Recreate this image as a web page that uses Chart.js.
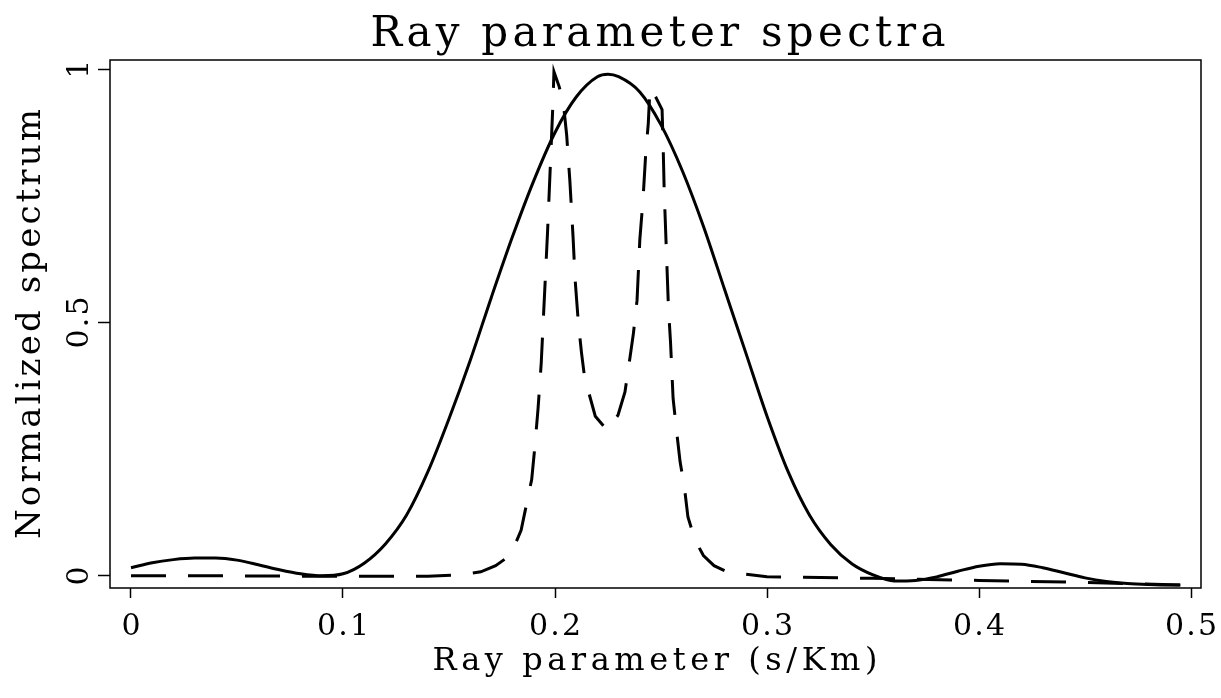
<!DOCTYPE html>
<html>
<head>
<meta charset="utf-8">
<script src="https://cdn.jsdelivr.net/npm/chart.js@4/dist/chart.umd.min.js"></script>
<style>
  body { margin: 0; background: #fff; }
  #wrap { width: 1221px; height: 698px; }
</style>
</head>
<body>
<div id="wrap"><canvas id="spectra" width="1221" height="698"></canvas></div>
<script>
const xTicks = [0, 0.1, 0.2, 0.3, 0.4, 0.5];
const xTickLabels = ["0", "0.1", "0.2", "0.3", "0.4", "0.5"];
const yTicks = [0, 0.5, 1];
const yTickLabels = ["0", "0.5", "1"];

const titleText = "Ray parameter spectra";
const xTitle = "Ray parameter (s/Km)";
const yTitle = "Normalized spectrum";

// solid curve
const solidX = [0, 0.01, 0.02, 0.03, 0.04, 0.05, 0.06, 0.07, 0.08, 0.09, 0.10,
  0.11, 0.12, 0.13, 0.14, 0.15, 0.16, 0.17, 0.18, 0.19, 0.20, 0.21, 0.22, 0.225,
  0.23, 0.24, 0.25, 0.26, 0.27, 0.28, 0.29, 0.30, 0.31, 0.32, 0.33, 0.34, 0.35,
  0.36, 0.37, 0.38, 0.39, 0.40, 0.41, 0.42, 0.43, 0.44, 0.45, 0.46, 0.47, 0.48,
  0.49, 0.495];
const solidY = [0.016, 0.026, 0.032, 0.035, 0.035, 0.031, 0.022, 0.012, 0.004, 0.000, 0.004,
  0.025, 0.063, 0.12, 0.205, 0.31, 0.425, 0.55, 0.67, 0.78, 0.875, 0.945, 0.985, 0.99,
  0.985, 0.955, 0.89, 0.80, 0.69, 0.565, 0.44, 0.315, 0.205, 0.12, 0.062, 0.024, 0.002,
  -0.010, -0.009, -0.002, 0.009, 0.019, 0.024, 0.023, 0.016, 0.006, -0.004, -0.011, -0.015, -0.017,
  -0.018, -0.018];

// dashed curve
const dashX = [0, 0.05, 0.10, 0.14, 0.155, 0.165, 0.172, 0.177, 0.181, 0.184, 0.1865,
  0.189, 0.1905, 0.192, 0.1935, 0.195, 0.1965, 0.198, 0.199, 0.1995, 0.202, 0.204,
  0.2055, 0.207, 0.2085, 0.2095, 0.211, 0.2125, 0.214, 0.2165, 0.219, 0.2245, 0.2297,
  0.233, 0.2354, 0.237, 0.2387, 0.240, 0.2415, 0.2428, 0.244, 0.2448, 0.2475, 0.2505,
  0.251, 0.2515, 0.2525, 0.2535, 0.2545, 0.2557, 0.2575, 0.259, 0.261, 0.2627, 0.266,
  0.270, 0.275, 0.280, 0.290, 0.300, 0.350, 0.400, 0.450, 0.495];
const dashY = [0, 0, -0.001, -0.001, 0.002, 0.008, 0.020, 0.035, 0.060, 0.090, 0.140,
  0.190, 0.255, 0.330, 0.420, 0.550, 0.680, 0.830, 0.930, 0.995, 0.965, 0.930,
  0.870, 0.780, 0.670, 0.584, 0.500, 0.440, 0.390, 0.353, 0.315, 0.288, 0.317,
  0.363, 0.432, 0.479, 0.544, 0.663, 0.742, 0.834, 0.893, 0.963, 0.945, 0.920,
  0.850, 0.760, 0.645, 0.530, 0.460, 0.350, 0.280, 0.225, 0.176, 0.116, 0.071,
  0.040, 0.020, 0.010, 0.003, -0.002, -0.005, -0.009, -0.013, -0.018];

const FONT = "'DejaVu Serif', 'Liberation Serif', serif";

const pts = (xs, ys) => xs.map((x, i) => ({ x: x, y: ys[i] }));

// draw text centred on x at baseline y, letters spread to fill `span` px
function spaced(c, str, x, y, span) {
  const chars = [...str];
  const widths = chars.map(ch => c.measureText(ch).width);
  const natural = widths.reduce((a, b) => a + b, 0);
  const gap = chars.length > 1 ? Math.max(0, (span - natural) / (chars.length - 1)) : 0;
  const total = natural + gap * (chars.length - 1);
  let cx = x - total / 2;
  c.textAlign = "left";
  c.textBaseline = "alphabetic";
  chars.forEach((ch, i) => {
    c.fillText(ch, cx, y);
    cx += widths[i] + gap;
  });
}

const frame = {
  id: "frame",
  beforeDraw(chart) {
    const c = chart.ctx;
    c.save();
    c.fillStyle = "#fff";
    c.fillRect(0, 0, chart.width, chart.height);
    c.restore();
  },
  afterDraw(chart) {
    const c = chart.ctx;
    const a = chart.chartArea;
    const xs = chart.scales.x;
    const ys = chart.scales.y;
    const midY = (a.top + a.bottom) / 2;
    c.save();
    c.strokeStyle = "#000";
    c.lineWidth = 1.5;
    c.strokeRect(a.left, a.top, a.right - a.left, a.bottom - a.top);
    c.fillStyle = "#000";

    c.font = "42px " + FONT;
    spaced(c, titleText, 658, 46, 575);

    c.font = "32px " + FONT;
    spaced(c, xTitle, 655, 670, 445);

    c.font = "30px " + FONT;
    xTicks.forEach((v, i) => spaced(c, xTickLabels[i], xs.getPixelForValue(v), 635, 52));
    yTicks.forEach((v, i) => {
      c.save();
      c.translate(88, ys.getPixelForValue(v));
      c.rotate(-Math.PI / 2);
      spaced(c, yTickLabels[i], 0, 0, 52);
      c.restore();
    });

    c.font = "34px " + FONT;
    c.save();
    c.translate(40, midY);
    c.rotate(-Math.PI / 2);
    spaced(c, yTitle, 0, 0, 430);
    c.restore();
    c.restore();
  }
};

new Chart(document.getElementById("spectra"), {
  type: "line",
  data: {
    datasets: [{
      data: pts(solidX, solidY),
      borderColor: "#000",
      borderWidth: 3,
      pointRadius: 0,
      cubicInterpolationMode: "monotone",
      fill: false
    }, {
      data: pts(dashX, dashY),
      borderColor: "#000",
      borderWidth: 3,
      borderDash: [35, 22],
      pointRadius: 0,
      tension: 0,
      fill: false
    }]
  },
  options: {
    responsive: false,
    animation: false,
    events: [],
    layout: { padding: { left: 0, right: 20, top: 60, bottom: 0 } },
    plugins: {
      legend: { display: false },
      tooltip: { enabled: false },
      title: { display: false }
    },
    scales: {
      x: {
        type: "linear",
        min: -0.0099,
        max: 0.5047,
        afterBuildTicks: s => { s.ticks = xTicks.map(v => ({ value: v })); },
        afterFit: s => { s.height = 110; },
        ticks: { display: false },
        grid: { drawOnChartArea: false, drawTicks: true, tickLength: 10, tickColor: "#000", tickWidth: 1.5 },
        border: { display: false }
      },
      y: {
        type: "linear",
        min: -0.024,
        max: 1.018,
        afterBuildTicks: s => { s.ticks = yTicks.map(v => ({ value: v })); },
        afterFit: s => { s.width = 110; },
        ticks: { display: false },
        grid: { drawOnChartArea: false, drawTicks: true, tickLength: 12, tickColor: "#000", tickWidth: 1.5 },
        border: { display: false }
      }
    }
  },
  plugins: [frame]
});
</script>
</body>
</html>
